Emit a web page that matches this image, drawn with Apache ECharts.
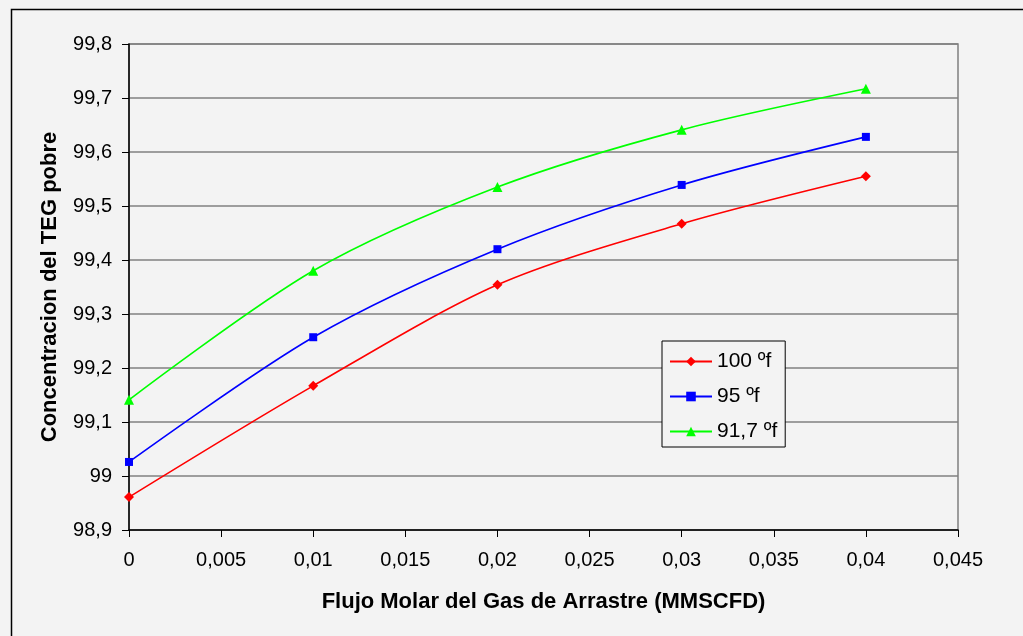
<!DOCTYPE html>
<html>
<head>
<meta charset="utf-8">
<script src="https://cdn.jsdelivr.net/npm/echarts@6/dist/echarts.min.js"></script>
<style>
  html, body { margin: 0; padding: 0; background: #f3f3f3; }
  #chart { width: 1023px; height: 636px; }
</style>
</head>
<body>
<div id="chart"></div>
<script>
// Flujo molar del gas de arrastre (MMSCFD)
const flujo = [0, 0.01, 0.02, 0.03, 0.04];
// Concentración del TEG pobre (%) a distintas temperaturas
const teg100 = [98.961, 99.167, 99.354, 99.467, 99.555];
const teg95 = [99.026, 99.257, 99.420, 99.539, 99.628];
const teg917 = [99.141, 99.380, 99.535, 99.641, 99.717];
const seriesNames = ['100 ºf', '95 ºf', '91,7 ºf'];

const fmt = v => String(+(+v).toFixed(4)).replace('.', ',');
const pairs = arr => flujo.map((x, i) => [x, arr[i]]);

const chart = echarts.init(document.getElementById('chart'));
const font = 'Liberation Sans, Arial, sans-serif';

function line(name, data, color, symbol, size) {
  return {
    name, type: 'line', data: pairs(data), smooth: 0.3,
    symbol, symbolSize: size,
    lineStyle: { color, width: 1.6 },
    itemStyle: { color },
    emphasis: { disabled: true }
  };
}

chart.setOption({
  backgroundColor: '#f3f3f3',
  animation: false,
  graphic: [{
    type: 'rect', left: 9, top: 7,
    shape: { width: 1030, height: 640 },
    style: { fill: 'none', stroke: '#000', lineWidth: 1.5 }
  }],
  grid: { left: 129, right: 65, top: 44, bottom: 106, show: true, borderColor: '#808080', borderWidth: 1.5, backgroundColor: 'transparent' },
  legend: {
    orient: 'vertical', left: 662, top: 341,
    itemWidth: 42, itemHeight: 12, itemGap: 14,
    padding: [10, 8, 5, 7],
    borderColor: '#000', borderWidth: 1, backgroundColor: '#f3f3f3',
    textStyle: { fontFamily: font, fontSize: 21, color: '#000' },
    data: seriesNames
  },
  xAxis: {
    type: 'value', min: 0, max: 0.045, interval: 0.005,
    name: 'Flujo Molar del Gas de Arrastre (MMSCFD)',
    nameLocation: 'middle', nameGap: 61,
    nameTextStyle: { fontFamily: font, fontSize: 22, fontWeight: 'bold', color: '#000' },
    axisLine: { lineStyle: { color: '#000', width: 1.5 } },
    axisTick: { show: true, length: 7, lineStyle: { color: '#000' } },
    axisLabel: { formatter: fmt, fontFamily: font, fontSize: 20, color: '#000', margin: 20 },
    splitLine: { show: false }
  },
  yAxis: {
    type: 'value', min: 98.9, max: 99.8, interval: 0.1,
    name: 'Concentracion del TEG pobre',
    nameLocation: 'middle', nameGap: 68, nameRotate: 90,
    nameTextStyle: { fontFamily: font, fontSize: 22, fontWeight: 'bold', color: '#000' },
    axisLine: { show: true, lineStyle: { color: '#000', width: 1.5 } },
    axisTick: { show: true, length: 7, lineStyle: { color: '#000' } },
    axisLabel: { formatter: fmt, fontFamily: font, fontSize: 20, color: '#000', margin: 17 },
    splitLine: { lineStyle: { color: '#808080', width: 1.5 } }
  },
  series: [
    line(seriesNames[0], teg100, '#ff0000', 'diamond', 10),
    line(seriesNames[1], teg95, '#0000ff', 'rect', 8),
    line(seriesNames[2], teg917, '#00ff00', 'triangle', 10)
  ]
});
</script>
</body>
</html>
